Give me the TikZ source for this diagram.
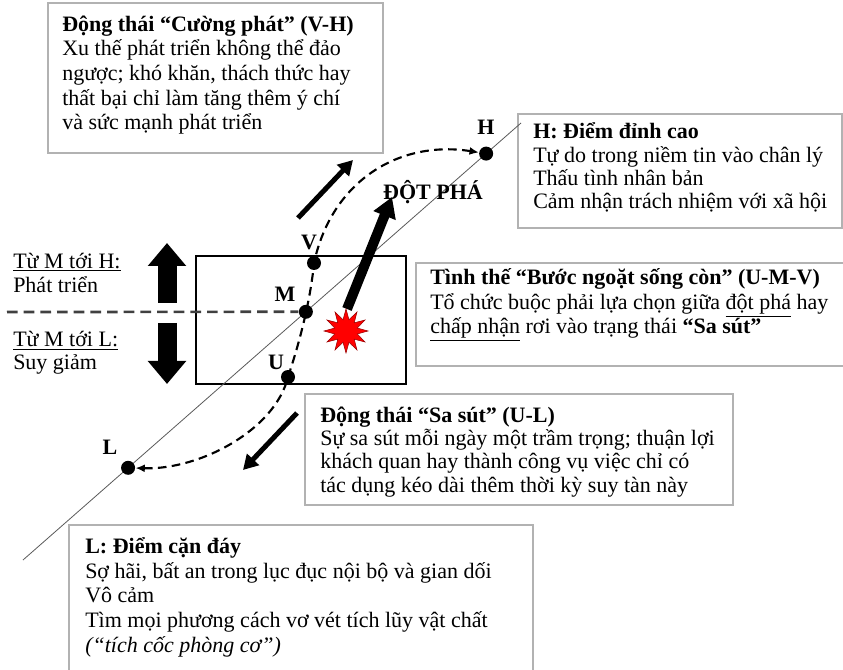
\documentclass[tikz,border=0pt]{standalone}
\usepackage{fontspec}
\setmainfont{Liberation Serif}
\usetikzlibrary{arrows.meta,shapes.geometric}

\tikzset{
  panel/.style={draw=black!30, line width=1pt},
  txt/.style={anchor=base west, align=left, inner sep=0pt, font=\fontsize{16.5}{18.5}\selectfont},
  tight/.style={font=\fontsize{16.5}{17.5}\selectfont},
  lbl/.style={inner sep=0pt, font=\fontsize{16.5}{18}\selectfont\bfseries},
  bigdot/.style={fill=black, circle, inner sep=0pt, minimum size=10.5pt},
  thin arrow/.style={line width=3.75pt, -{Triangle[width=12pt,length=11pt]}},
  block arrow/.style={line width=14.25pt, -{Triangle[width=27.75pt,length=17.25pt]}},
  path dash/.style={line width=1.6pt, dash pattern=on 6.5pt off 4pt},
}

\begin{document}
\begin{tikzpicture}[x=0.75pt,y=-0.75pt]
	\useasboundingbox (0,0) rectangle (843,670);
	% text frames
	\draw[panel] (48,3) rectangle (383,153);
	\draw[panel] (518,114) rectangle (842,228);
	\draw[panel] (416,263) rectangle (848,366);
	\draw[panel] (305,394) rectangle (733,505);
	\draw[panel] (69,525) rectangle (533,675);
	\draw[line width=1pt] (196,256) rectangle (406,384);
	% main line with L, M, H
	\coordinate (lineS) at (23,560);
	\coordinate (lineE) at (521,123);
	\draw[black!65, line width=0.6pt] (lineS) -- (lineE)
		node[bigdot, pos=0.211] (L) {}
		node[bigdot, pos=0.568] (M) {}
		node[bigdot, pos=0.930] (H) {};
	\node[bigdot] (U) at (288,377) {};
	\node[bigdot] (V) at (314,263) {};
	\coordinate (dashS) at (7,312);
	\draw[black!75, line width=2pt, dash pattern=on 8pt off 4.5pt] (dashS) -- (M);
	\draw[path dash, {Latex[length=7pt,width=6pt]}-{Latex[length=7pt,width=6pt]}]
		(L) .. controls (200,470) and (275,430) .. (U.center)
		.. controls (302,335) and (311,295) .. (V.center)
		.. controls (332,180) and (400,140) .. (H);
	\node[lbl] (labH) at (486,127) {H};
	\node[lbl] (labV) at (309,242) {V};
	\node[lbl] (labM) at (285,294) {M};
	\node[lbl] (labU) at (276,362) {U};
	\node[lbl] (labL) at (110,447) {L};
	% arrows
	\draw[block arrow] (167,303) -- (167,243);
	\draw[block arrow] (167,323) -- (167,384);
	\draw[thin arrow] (298,218) -- (353,160);
	\draw[thin arrow] (297,413) -- (243,470);
	\draw[line width=7.5pt, -{Triangle[width=17pt,length=15pt]}] (347,309) -- (392,197);
	\node[lbl] (breakLbl) at (433,192) {ĐỘT PHÁ};
	\node[star, star points=12, star point ratio=1.9, fill=red, draw=red!60!black, line width=0.4pt,
		inner sep=0pt, minimum size=33pt] (burst) at (346,331) {};
	% texts (anchored at the baseline of their last line)
	\node[txt] (descVH) at (62,130) {\textbf{Động thái “Cường phát” (V-H)}\\Xu thế phát triển không thể đảo\\ngược; khó khăn, thách thức hay\\thất bại chỉ làm tăng thêm ý chí\\và sức mạnh phát triển};
	\node[txt, tight] (descH) at (533,209) {\textbf{H: Điểm đỉnh cao}\\Tự do trong niềm tin vào chân lý\\Thấu tình nhân bản\\Cảm nhận trách nhiệm với xã hội};
	\node[txt] (descUMV) at (430,334) {\textbf{Tình thế “Bước ngoặt sống còn” (U-M-V)}\\Tổ chức buộc phải lựa chọn giữa \underline{đột phá} hay\\\underline{chấp nhận} rơi vào trạng thái \textbf{“Sa sút”}};
	\node[txt, tight] (descUL) at (320,492) {\textbf{Động thái “Sa sút” (U-L)}\\Sự sa sút mỗi ngày một trầm trọng; thuận lợi\\khách quan hay thành công vụ việc chỉ có\\tác dụng kéo dài thêm thời kỳ suy tàn này};
	\node[txt] (descL) at (85,652) {\textbf{L: Điểm cặn đáy}\\Sợ hãi, bất an trong lục đục nội bộ và gian dối\\Vô cảm\\Tìm mọi phương cách vơ vét tích lũy vật chất\\\textit{(“tích cốc phòng cơ”)}};
	\node[txt] (upLbl) at (13,293) {\underline{Từ M tới H:}\\Phát triển};
	\node[txt, tight] (downLbl) at (13,370) {\underline{Từ M tới L:}\\Suy giảm};
\end{tikzpicture}
\end{document}
